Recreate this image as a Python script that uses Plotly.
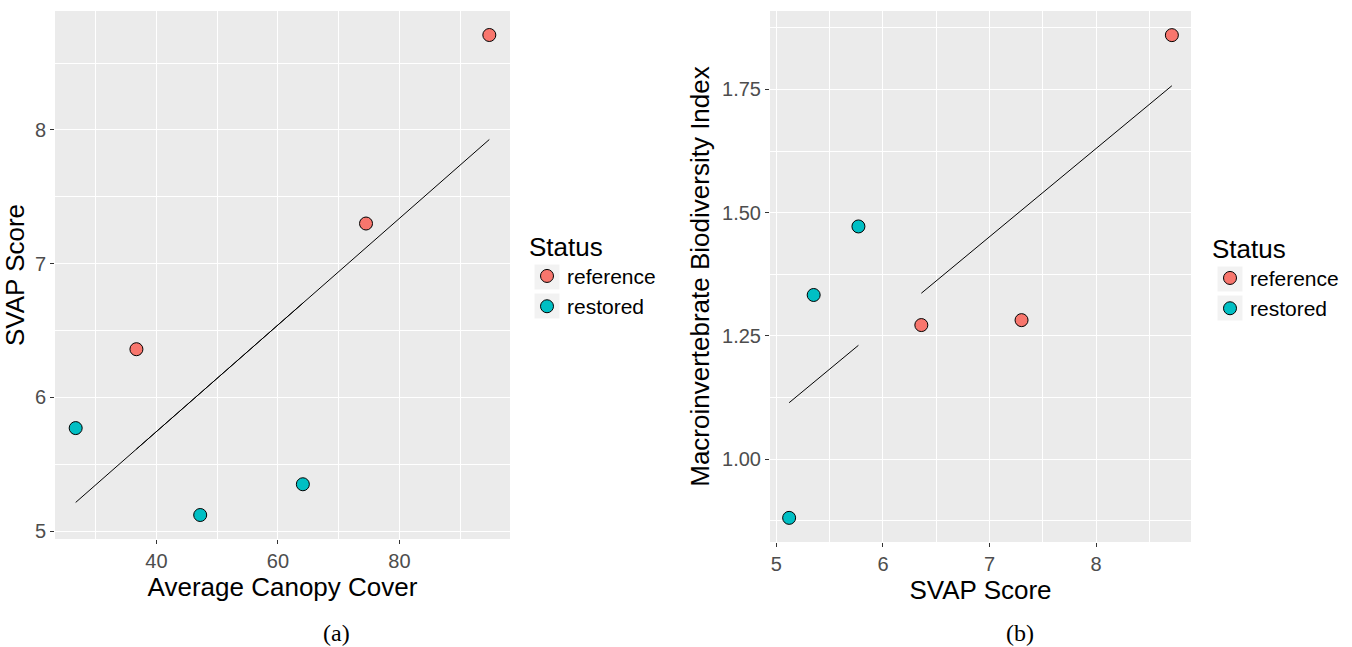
import numpy as np
import plotly.graph_objects as go

# ---- data ----
status = ["reference", "reference", "reference", "restored", "restored", "restored"]
canopy = [94.8, 74.5, 36.7, 26.7, 47.2, 64.1]
svap = [8.71, 7.30, 6.36, 5.77, 5.12, 5.35]
mbi = [1.860, 1.282, 1.272, 1.472, 0.881, 1.333]
groups = ["reference", "restored"]
colors = {"reference": "#F8766D", "restored": "#00BFC4"}

W, H = 1352, 647
def px(x): return x / W
def py(y): return 1 - y / H

def expand(v, f=0.05):
    lo, hi = min(v), max(v)
    d = (hi - lo) * f
    return [lo - d, hi + d]

fig = go.Figure()

panels = [
    dict(x=canopy, y=svap, xa="x", ya="y", legend="legend"),
    dict(x=svap, y=mbi, xa="x2", ya="y2", legend="legend2"),
]

for p in panels:
    xs = np.array(p["x"], dtype=float)
    ys = np.array(p["y"], dtype=float)
    slope, icpt = np.polyfit(xs, ys, 1)
    for g in groups:
        idx = [i for i, s in enumerate(status) if s == g]
        gx = xs[idx]
        lx = [gx.min(), gx.max()]
        fig.add_trace(go.Scatter(
            x=lx, y=[slope * v + icpt for v in lx], mode="lines",
            line=dict(color="black", width=1), showlegend=False,
            xaxis=p["xa"], yaxis=p["ya"], hoverinfo="skip"))
    for g in groups:
        idx = [i for i, s in enumerate(status) if s == g]
        fig.add_trace(go.Scatter(
            x=[p["x"][i] for i in idx], y=[p["y"][i] for i in idx],
            mode="markers", name=g, legend=p["legend"],
            marker=dict(size=13, color=colors[g], line=dict(color="black", width=1)),
            xaxis=p["xa"], yaxis=p["ya"]))

tickfont = dict(family="Liberation Sans, Arial", size=20, color="#4D4D4D")
titlefont = dict(family="Liberation Sans, Arial", size=26, color="black")

def axis(domain, rng, dtick, title, anchor, standoff, fmt=None):
    d = dict(
        domain=domain, range=rng, anchor=anchor, dtick=dtick, tick0=0,
        showgrid=True, gridcolor="white", gridwidth=1.1,
        minor=dict(showgrid=True, gridcolor="white", gridwidth=0.5, dtick=dtick / 2, tick0=0, ticks=""),
        ticks="outside", ticklen=4, tickwidth=1, tickcolor="#333333",
        tickfont=tickfont, zeroline=False, showline=False,
        title=dict(text=title, font=titlefont, standoff=standoff),
        automargin=False,
    )
    if fmt:
        d["tickformat"] = fmt
    return d

def keyrect(cx, cy, s=25):
    return dict(type="rect", xref="paper", yref="paper",
                x0=px(cx - s / 2), x1=px(cx + s / 2), y0=py(cy - s / 2), y1=py(cy + s / 2),
                fillcolor="#F2F2F2", line=dict(width=0), layer="above")

legfont = dict(family="Liberation Sans, Arial", size=21, color="black")
legtitle = dict(text="Status", font=dict(family="Liberation Sans, Arial", size=26, color="black"))

fig.update_layout(
    width=W, height=H,
    margin=dict(l=0, r=0, t=0, b=0),
    paper_bgcolor="white", plot_bgcolor="#EBEBEB",
    font=dict(family="Liberation Sans, Arial"),
    xaxis=axis([px(55), px(510)], expand(canopy), 20, "Average Canopy Cover", "y", 3),
    yaxis=axis([py(539), py(11)], expand(svap), 1, "SVAP Score", "x", 4),
    xaxis2=axis([px(770), px(1191)], expand(svap), 1, "SVAP Score", "y2", 3),
    yaxis2=axis([py(542), py(11)], expand(mbi), 0.25, "Macroinvertebrate Biodiversity Index", "x2", 4, ".2f"),
    legend=dict(x=px(527), y=py(222), xanchor="left", yanchor="top",
                bgcolor="rgba(0,0,0,0)", title=legtitle, font=legfont, tracegroupgap=0),
    legend2=dict(x=px(1210), y=py(224), xanchor="left", yanchor="top",
                 bgcolor="rgba(0,0,0,0)", title=legtitle, font=legfont, tracegroupgap=0),
    shapes=[
        keyrect(547, 277), keyrect(547, 306),
        keyrect(1230, 279), keyrect(1230, 308),
    ],
    annotations=[
        dict(text="(a)", x=px(336), y=py(633), xref="paper", yref="paper", showarrow=False,
             yanchor="middle", xanchor="center",
             font=dict(family="Liberation Serif, DejaVu Serif, serif", size=24, color="black")),
        dict(text="(b)", x=px(1020), y=py(633), xref="paper", yref="paper", showarrow=False,
             yanchor="middle", xanchor="center",
             font=dict(family="Liberation Serif, DejaVu Serif, serif", size=24, color="black")),
    ],
)

fig.write_html("out.html")
